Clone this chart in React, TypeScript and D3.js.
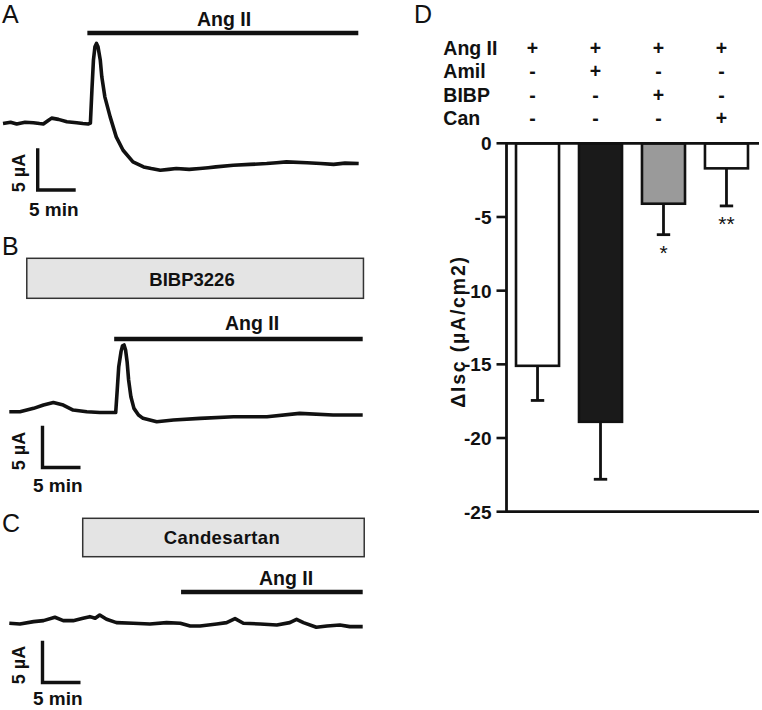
import React from "react";
import * as d3 from "d3";

// ---------- Trace data (time in min, current in µA relative to baseline) ----------
const traceATime = [0, 1.0, 1.8, 2.9, 4.0, 4.8, 5.3, 6.0, 6.4, 7.3, 8.4, 9.7, 10.5, 11.2, 11.5, 11.7, 11.9, 12.1, 12.3, 12.5, 12.8, 13.0, 13.4, 14.1, 14.9, 15.8, 17.1, 18.5, 19.5, 20.7, 21.8, 22.8, 24.5, 25.9, 27.0, 28.0, 30.3, 32.5, 34.7, 36.0, 37.3, 40.0, 41.8, 43.5, 45.0, 46.8];
const traceAValue = [-0.1, 0.05, -0.15, 0.05, 0.0, -0.1, -0.15, 0.3, 0.55, 0.4, 0.12, 0.0, -0.1, -0.15, -0.05, 3.9, 7.5, 9.1, 9.5, 9.1, 7.5, 5.5, 3.1, 0.7, -1.7, -3.3, -4.7, -5.3, -5.5, -5.7, -5.6, -5.5, -5.6, -5.5, -5.4, -5.3, -5.1, -5.0, -4.9, -4.8, -4.7, -4.8, -4.9, -5.0, -4.85, -4.9];

const traceBTime = [0, 1.4, 3.2, 4.5, 5.8, 7.1, 8.4, 10.2, 11.9, 14.0, 14.2, 14.4, 14.7, 14.9, 15.1, 15.3, 15.5, 15.7, 16.0, 16.4, 17.0, 17.6, 19.4, 21.6, 25.1, 29.5, 33.9, 38.2, 42.6, 46.5];
const traceBValue = [0, 0, 0.4, 0.8, 1.1, 0.8, 0.2, 0, -0.1, -0.1, 2.6, 5.4, 7.2, 7.9, 8.0, 7.4, 6.0, 3.8, 1.8, 0.4, -0.4, -0.8, -1.2, -1.0, -0.8, -0.6, -0.6, -0.2, -0.4, -0.4];

const traceCTime = [0, 1.4, 3.2, 4.5, 6.0, 7.1, 8.4, 9.7, 10.6, 11.3, 11.9, 12.8, 14.1, 16.3, 18.5, 20.7, 22.5, 23.8, 25.1, 27.3, 28.6, 29.7, 30.8, 33.0, 35.2, 36.9, 37.8, 38.7, 40.4, 41.8, 43.5, 44.8, 46.5];
const traceCValue = [0, -0.08, 0.2, 0.32, 0.72, 0.32, 0.32, 0.6, 0.8, 0.6, 1.0, 0.48, 0.08, 0, -0.08, 0.08, 0, -0.32, -0.32, -0.08, 0.08, 0.56, 0, -0.08, -0.2, 0.08, 0.48, 0.08, -0.48, -0.32, -0.2, -0.4, -0.4];

// treatment periods [start, end] in minutes
const angIIPeriodA = [11.1, 46.75];
const bibpPeriodB = [2.3, 46.6];
const angIIPeriodB = [13.8, 46.5];
const candPeriodC = [9.66, 46.7];
const angIIPeriodC = [22.6, 46.5];

const scaleBarMin = 5;
const scaleBarMicroA = 5;

// ---------- Bar chart data ----------
const groups = ["Ang II", "Ang II + Amil", "Ang II + BIBP", "Ang II + Can"];
const means = [-15.1, -18.9, -4.1, -1.7];
const errors = [2.35, 3.9, 2.1, 2.55];
const barFills = ["#ffffff", "#1a1a1a", "#9a9a9a", "#ffffff"];
const stars = ["", "", "*", "**"];
const rowLabels = ["Ang II", "Amil", "BIBP", "Can"];
const signs = [
  ["+", "+", "+", "+"],
  ["-", "+", "-", "-"],
  ["-", "-", "+", "-"],
  ["-", "-", "-", "+"],
];
const yTicks = [0, -5, -10, -15, -20, -25];

const FONT = "'Liberation Sans', Arial, Helvetica, sans-serif";

function zip(t: number[], v: number[]) {
  return t.map((d, i) => [d, v[i]] as [number, number]);
}

function ScaleBar({ cx, cy, xs, ys, textX, muY, minX, minY }: any) {
  const w = xs(scaleBarMin) - xs(0);
  const h = ys(0) - ys(scaleBarMicroA);
  return (
    <g>
      <path d={`M${cx},${cy - h}V${cy}H${cx + w}`} fill="none" stroke="#111" strokeWidth={3.4} />
      <text x={textX} y={muY} transform={`rotate(-90,${textX},${muY})`} textAnchor="middle" fontFamily={FONT} fontWeight="bold" fontSize={18} fill="#111">
        5 µA
      </text>
      <text x={minX} y={minY} fontFamily={FONT} fontWeight="bold" fontSize={19} fill="#111">
        5 min
      </text>
    </g>
  );
}

export default function App() {
  const line = (xs: any, ys: any) => d3.line<[number, number]>().x((d) => xs(d[0])).y((d) => ys(d[1]));

  // Panel A scales
  const xA = d3.scaleLinear().domain([0, 5]).range([3, 41]);
  const yA = d3.scaleLinear().domain([0, 5]).range([122.7, 81]);
  // Panel B
  const xB = d3.scaleLinear().domain([0, 5]).range([9.3, 47.3]);
  const yB = d3.scaleLinear().domain([0, 5]).range([411.7, 370]);
  // Panel C
  const xC = d3.scaleLinear().domain([0, 5]).range([9.3, 47.3]);
  const yC = d3.scaleLinear().domain([0, 5]).range([623.3, 581.6]);

  // Panel D
  const yD = d3.scaleLinear().domain([-25, 0]).range([511.7, 143.3]);
  const xD = d3.scaleBand().domain(groups).range([506, 758]).paddingInner(0.317).paddingOuter(0.159);
  const axisX = 506.5;
  const bw = xD.bandwidth();

  const traceStyle = { fill: "none", stroke: "#111", strokeWidth: 3.6, strokeLinejoin: "round" as const };

  return (
    <svg width={762} height={710} style={{ position: "absolute", left: 0, top: 0, background: "#fff" }}>
      <rect x={0} y={0} width={762} height={710} fill="#fff" />
      {/* ---------- Panel A ---------- */}
      <text x={2} y={22.7} fontFamily={FONT} fontSize={25} fill="#111">A</text>
      <line x1={xA(angIIPeriodA[0])} x2={xA(angIIPeriodA[1])} y1={33} y2={33} stroke="#111" strokeWidth={4.5} />
      <text x={224} y={26} textAnchor="middle" fontFamily={FONT} fontWeight="bold" fontSize={19.5} fill="#111">Ang II</text>
      <path d={line(xA, yA)(zip(traceATime, traceAValue)) || ""} {...traceStyle} />
      <ScaleBar cx={37.7} cy={190} xs={xA} ys={yA} textX={24.5} muY={173} minX={29} minY={216} />

      {/* ---------- Panel B ---------- */}
      <text x={2} y={255} fontFamily={FONT} fontSize={25} fill="#111">B</text>
      <rect x={xB(bibpPeriodB[0])} y={258.3} width={xB(bibpPeriodB[1]) - xB(bibpPeriodB[0])} height={40} fill="#e4e4e4" stroke="#333" strokeWidth={1.5} />
      <text x={192} y={285.5} textAnchor="middle" fontFamily={FONT} fontWeight="bold" fontSize={18.5} fill="#111">BIBP3226</text>
      <line x1={xB(angIIPeriodB[0])} x2={xB(angIIPeriodB[1])} y1={339} y2={339} stroke="#111" strokeWidth={4.5} />
      <text x={252} y={329.5} textAnchor="middle" fontFamily={FONT} fontWeight="bold" fontSize={19.5} fill="#111">Ang II</text>
      <path d={line(xB, yB)(zip(traceBTime, traceBValue)) || ""} {...traceStyle} />
      <ScaleBar cx={42.5} cy={467.5} xs={xB} ys={yB} textX={24.5} muY={451} minX={33} minY={491.5} />

      {/* ---------- Panel C ---------- */}
      <text x={2} y={532} fontFamily={FONT} fontSize={25} fill="#111">C</text>
      <rect x={xC(candPeriodC[0])} y={518.3} width={xC(candPeriodC[1]) - xC(candPeriodC[0])} height={38.4} fill="#e4e4e4" stroke="#333" strokeWidth={1.5} />
      <text x={222} y={544} textAnchor="middle" fontFamily={FONT} fontWeight="bold" fontSize={18.5} letterSpacing={0.4} fill="#111">Candesartan</text>
      <line x1={xC(angIIPeriodC[0])} x2={xC(angIIPeriodC[1])} y1={592} y2={592} stroke="#111" strokeWidth={4.5} />
      <text x={286} y={584.5} textAnchor="middle" fontFamily={FONT} fontWeight="bold" fontSize={19.5} fill="#111">Ang II</text>
      <path d={line(xC, yC)(zip(traceCTime, traceCValue)) || ""} {...traceStyle} />
      <ScaleBar cx={42.5} cy={682.5} xs={xC} ys={yC} textX={24.5} muY={665} minX={33} minY={704.5} />

      {/* ---------- Panel D ---------- */}
      <text x={414} y={22.7} fontFamily={FONT} fontSize={25} fill="#111">D</text>
      {rowLabels.map((lab, r) => (
        <g key={lab}>
          <text x={443.3} y={54.5 + r * 23.5} fontFamily={FONT} fontWeight="bold" fontSize={19.5} fill="#111">{lab}</text>
          {signs[r].map((s, c) => (
            <text key={c} x={(xD(groups[c]) || 0) + bw / 2 - 5} y={54.5 + r * 23.5} textAnchor="middle" fontFamily={FONT} fontWeight="bold" fontSize={19.5} fill="#111">{s}</text>
          ))}
        </g>
      ))}

      {/* bars */}
      {groups.map((g, i) => (
        <rect key={g} x={xD(g)} y={yD(0)} width={bw} height={yD(means[i]) - yD(0)} fill={barFills[i]} stroke="#111" strokeWidth={2.6} />
      ))}
      {/* error bars */}
      {groups.map((g, i) => {
        const cx = (xD(g) || 0) + bw / 2;
        const y0 = yD(means[i]);
        const y1 = yD(means[i] - errors[i]);
        return (
          <g key={"e" + g}>
            <line x1={cx} x2={cx} y1={y0} y2={y1} stroke="#111" strokeWidth={2.8} />
            <line x1={cx - 6.7} x2={cx + 6.7} y1={y1} y2={y1} stroke="#111" strokeWidth={2.8} />
            {stars[i] && (
              <text x={cx} y={y1 + 25} textAnchor="middle" fontFamily={FONT} fontSize={21} fill="#111">{stars[i]}</text>
            )}
          </g>
        );
      })}

      {/* axes */}
      <line x1={axisX} x2={759} y1={yD(0)} y2={yD(0)} stroke="#111" strokeWidth={2.8} />
      <line x1={axisX} x2={759} y1={yD(-25)} y2={yD(-25)} stroke="#111" strokeWidth={2.8} />
      <line x1={axisX} x2={axisX} y1={yD(0) - 1.4} y2={yD(-25) + 1.4} stroke="#111" strokeWidth={2.8} />
      {yTicks.map((t) => (
        <g key={t}>
          <line x1={axisX - 10} x2={axisX} y1={yD(t)} y2={yD(t)} stroke="#111" strokeWidth={2.6} />
          <text x={491.5} y={yD(t) + 7} textAnchor="end" fontFamily={FONT} fontWeight="bold" fontSize={19} fill="#111">{t}</text>
        </g>
      ))}
      <text
        x={465}
        y={331.5}
        transform="rotate(-90,465,331.5)"
        textAnchor="middle"
        fontFamily={FONT}
        fontWeight="bold"
        fontSize={19.5}
        letterSpacing={1.8}
        fill="#111"
      >
        ΔIsc  (µA/cm2)
      </text>
    </svg>
  );
}
